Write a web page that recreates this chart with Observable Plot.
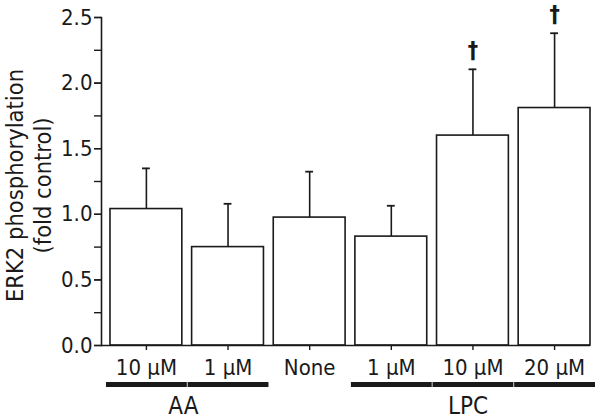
<!DOCTYPE html>
<html><head><meta charset="utf-8">
<script src="https://cdn.jsdelivr.net/npm/d3@7"></script>
<script src="https://cdn.jsdelivr.net/npm/@observablehq/plot@0.6"></script>
<style>body{margin:0;background:#fff}</style>
</head><body><div id="chart"></div>
<script>
const keys = ["AA10","AA1","None","LPC1","LPC10","LPC20"];
const labels = ["10 μM","1 μM","None","1 μM","10 μM","20 μM"];
const groups = ["AA","AA","","LPC","LPC","LPC"];
const means = [1.04, 0.75, 0.975, 0.83, 1.60, 1.81];
const errTop = [1.35, 1.08, 1.325, 1.065, 2.105, 2.38];
const significant = [false,false,false,false,true,true];
const yTicksMinor = [0,0.25,0.5,0.75,1,1.25,1.5,1.75,2,2.25,2.5];
const yTicksMajor = [0,0.5,1,1.5,2,2.5];
const groupNames = ["AA","LPC"];
const groupAnchors = ["AA10","LPC10"];

const data = keys.map((k,i)=>({key:k, label:labels[i], group:groups[i], mean:means[i], err:errTop[i], sig:significant[i]}));
const labelOf = Object.fromEntries(keys.map((k,i)=>[k,labels[i]]));
const groupData = groupNames.map((g,i)=>({name:g, at:groupAnchors[i]}));
const ink = "#1a1a1a";
const font = "'DejaVu Sans Condensed', 'DejaVu Sans', sans-serif";
const fs = 22;

const chart = Plot.plot({
  width: 600, height: 420,
  marginLeft: 101, marginRight: 10, marginTop: 17, marginBottom: 75,
  style: {fontFamily: font, fontSize: fs + "px", color: ink, background: "#fff"},
  x: {type: "band", domain: keys, paddingInner: 0.12, paddingOuter: 0.055, align: 1, round: false, label: null},
  y: {domain: [0, 2.5], label: null},
  marks: [
    Plot.ruleX(data, {x: "key", y1: "mean", y2: "err", stroke: ink, strokeWidth: 1.6}),
    Plot.tickY(data, {x: "key", y: "err", stroke: ink, strokeWidth: 1.8, inset: 32}),
    Plot.barY(data, {x: "key", y: "mean", fill: "white", stroke: ink, strokeWidth: 1.6}),
    Plot.ruleY([0], {stroke: ink, strokeWidth: 1.6}),
    Plot.frame({anchor: "left", stroke: ink, strokeWidth: 1.6}),
    Plot.axisY({ticks: yTicksMinor, tickSize: 7, tickFormat: () => "", stroke: ink, strokeWidth: 1.4}),
    Plot.axisY({ticks: yTicksMajor, tickSize: 7, tickPadding: 2, tickFormat: d3.format(".1f"), fontSize: fs, fill: ink, stroke: ink, strokeWidth: 1.4}),
    Plot.axisX({tickSize: 5, tickPadding: 9, tickFormat: k => labelOf[k], fontSize: fs, fill: ink, stroke: ink, strokeWidth: 1.4}),
    Plot.text(data.filter(d => d.sig), {x: "key", y: "err", text: () => "†", fontWeight: "bold", fontSize: 23, lineAnchor: "bottom", dy: -11, fill: ink}),
    Plot.tickY(data.filter(d => d.group), {x: "key", y: () => 0, dy: 39, stroke: ink, strokeWidth: 5, insetLeft: -4, insetRight: -5}),
    Plot.text(groupData.filter(d => d.name === "AA"), {x: "at", y: () => 0, text: "name", dx: 37, dy: 61, fontSize: 24, fill: ink}),
    Plot.text(groupData.filter(d => d.name === "LPC"), {x: "at", y: () => 0, text: "name", dx: -5, dy: 61, fontSize: 24, fill: ink}),
    Plot.text(["ERK2 phosphorylation"], {frameAnchor: "left", textAnchor: "middle", rotate: -90, dx: -86, dy: 4, fontSize: 23.5, fill: ink}),
    Plot.text(["(fold control)"], {frameAnchor: "left", textAnchor: "middle", rotate: -90, dx: -58, dy: 4, fontSize: 23.5, fill: ink})
  ]
});
document.getElementById("chart").append(chart);
</script>
</body></html>
